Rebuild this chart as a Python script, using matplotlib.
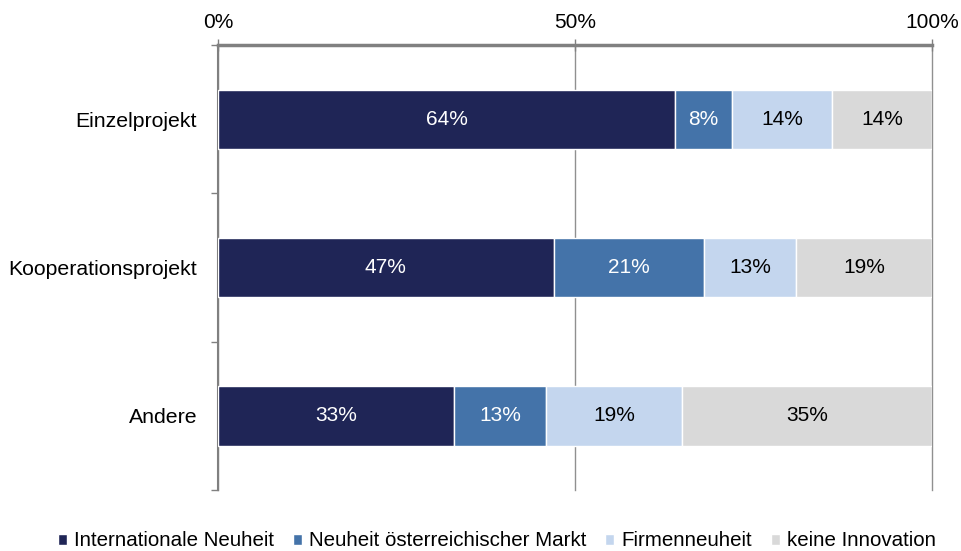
import numpy as np
import matplotlib.pyplot as plt
from matplotlib.ticker import FixedLocator

plt.rcParams['font.family'] = ['Liberation Sans', 'DejaVu Sans']

categories = ['Einzelprojekt', 'Kooperationsprojekt', 'Andere']
series = ['Internationale Neuheit', 'Neuheit österreichischer Markt', 'Firmenneuheit', 'keine Innovation']
values = [
    [64, 47, 33],
    [8, 21, 13],
    [14, 13, 19],
    [14, 19, 35],
]
colors = ['#1f2556', '#4473a9', '#c4d6ee', '#d9d9d9']
text_colors = ['white', 'white', 'black', 'black']

fs = 15

fig = plt.figure(figsize=(9.62, 5.51), dpi=100)
ax = fig.add_axes([218 / 962, 1 - 490 / 551, 714 / 962, 445 / 551])

y = np.arange(len(categories))
left = np.zeros(len(categories))
for vals, col, tc, name in zip(values, colors, text_colors, series):
    vals = np.array(vals, dtype=float)
    bars = ax.barh(y, vals, left=left, height=0.4, color=col, edgecolor='white',
                   linewidth=1, label=name, zorder=3)
    for b, v in zip(bars, vals):
        ax.text(b.get_x() + b.get_width() / 2, b.get_y() + b.get_height() / 2,
                f'{v:.0f}%', ha='center', va='center', color=tc, fontsize=fs, zorder=4)
    left += vals

ax.set_xlim(0, 100)
ax.set_ylim(len(categories) - 0.5, -0.5)
ax.xaxis.set_ticks_position('top')
ax.set_xticks([0, 50, 100])
ax.set_xticklabels(['0%', '50%', '100%'], fontsize=fs)
ax.tick_params(axis='x', direction='inout', length=8, color='#808080', width=1, pad=5)
ax.grid(axis='x', color='#909090', linewidth=1, zorder=0)
for gl in ax.get_xgridlines():
    gl.set_clip_on(False)

ax.set_yticks(y)
ax.set_yticklabels(categories, fontsize=15.3)
ax.tick_params(axis='y', which='major', length=0, pad=15)
ax.yaxis.set_minor_locator(FixedLocator([-0.5, 0.5, 1.5, 2.5]))
ax.tick_params(axis='y', which='minor', length=5, color='#808080', width=1)

ax.spines['right'].set_visible(False)
ax.spines['bottom'].set_visible(False)
ax.spines['top'].set_color('#808080')
ax.spines['top'].set_linewidth(2.5)
ax.spines['left'].set_color('#808080')
ax.spines['left'].set_linewidth(1.5)

fig.legend(*ax.get_legend_handles_labels(), loc='center', bbox_to_anchor=(497 / 962, 1 - 541 / 551),
           ncol=4, frameon=False, fontsize=14.8, handlelength=0.45, handleheight=0.45,
           handletextpad=0.35, columnspacing=0.9, borderpad=0)

fig.savefig('out.png', dpi=100)
